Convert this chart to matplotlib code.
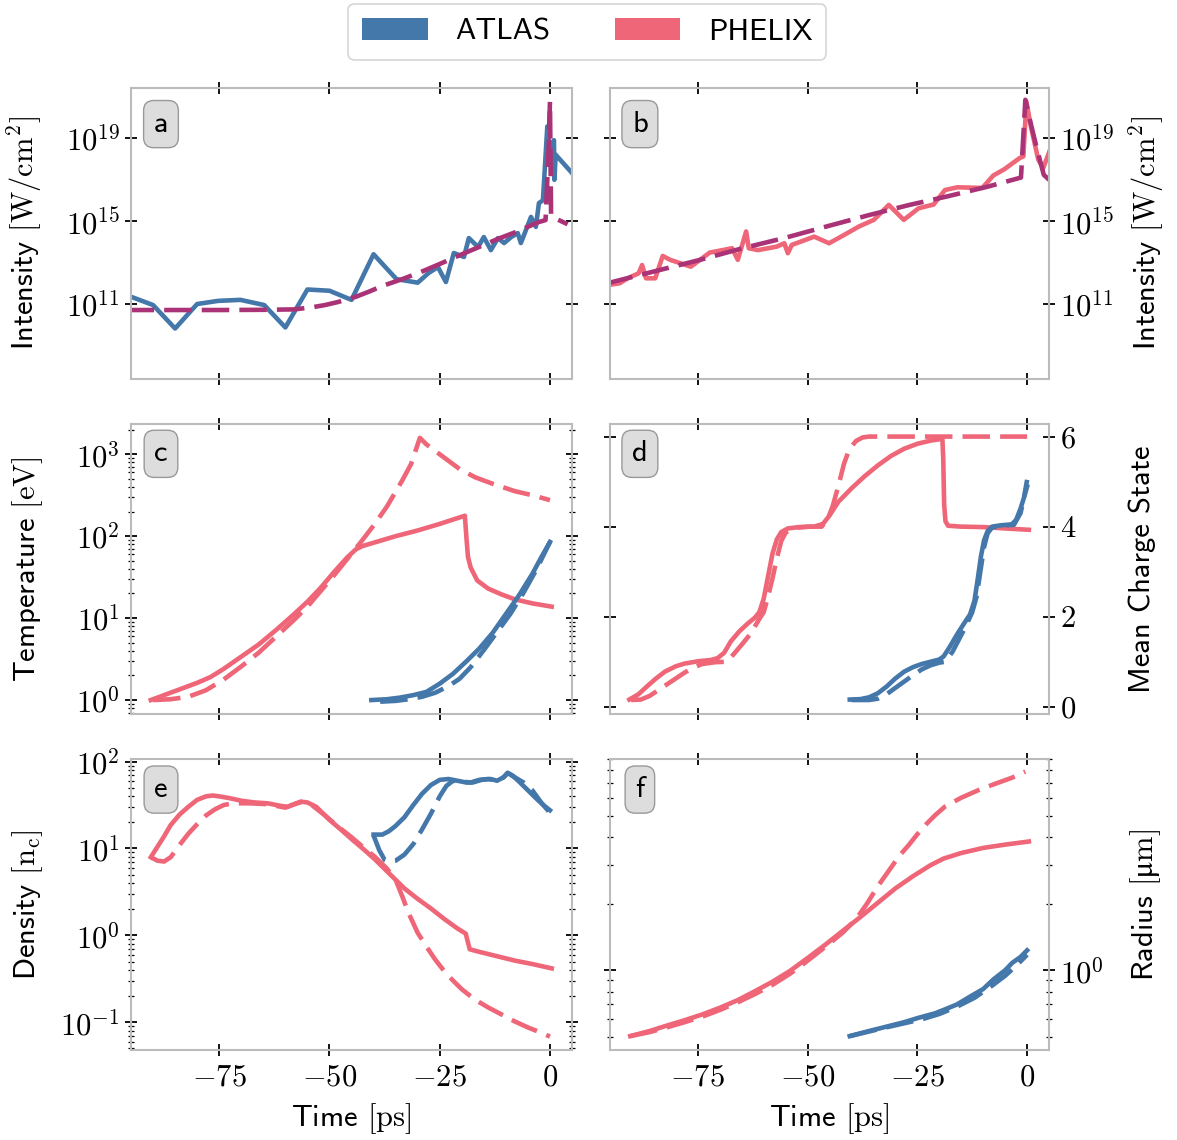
import matplotlib.pyplot as plt
import numpy as np
from matplotlib.patches import Patch
from matplotlib.ticker import FixedLocator, NullLocator, NullFormatter, LogLocator, FuncFormatter

plt.rcParams['font.family'] = ['cmss10', 'DejaVu Sans']
plt.rcParams['mathtext.fontset'] = 'cm'
plt.rcParams['axes.formatter.use_mathtext'] = True

BLUE = '#4477AA'
PINK = '#EE6677'
PURPLE = '#AA3377'

# ---- panel a: ATLAS intensity (log10 W/cm^2) ----
atlas_int_t = [-95, -90, -85, -80, -75.3, -70.2, -64.8, -60, -55, -50, -45, -40, -34.8, -30, -29.3,
               -27.5, -25.4, -23.6, -21.8, -19.5, -18.4, -16.3, -15, -13.4, -11.8, -10.4, -8.8, -7.3,
               -6.6, -4.3, -3.2, -2.5, -1.6, -0.6, 0, 0.9, 1.0, 1.3, 5.5]
atlas_int_log = [11.35, 10.95, 9.82, 11.0, 11.15, 11.2, 10.95, 9.87, 11.7, 11.64, 11.2, 13.4, 12.2, 12.03, 12.16,
                 12.5, 12.78, 12.06, 13.46, 13.27, 14.18, 13.75, 14.23, 13.6, 14.18, 13.94, 14.23, 14.42,
                 13.94, 15.2, 14.72, 15.87, 16.0, 19.57, 18.3, 18.9, 16.99, 18.2, 17.2]
atlas_fit_t = [-96, -85, -75, -65, -58, -54, -51, -48, -44, -41, -37.9, -33.5, -29.2, -24.8,
               -20.5, -16.1, -11.7, -7.4, -2.6, -1.0, -0.3, 0, 0.25, 0.5, 4.0]
atlas_fit_log = [10.71, 10.71, 10.71, 10.72, 10.74, 10.84, 10.95, 11.1, 11.35, 11.6, 11.88, 12.2, 12.55, 12.95,
                 13.35, 13.75, 14.15, 14.5, 14.95, 15.05, 18.5, 20.77, 15.3, 15.2, 14.85]

# ---- panel b: PHELIX intensity ----
phelix_int_t = [-96, -92.8, -91, -88.5, -87.7, -86.8, -84.7, -83, -81.3, -76.6, -72.3, -67.2, -65.9, -64,
                -63.4, -61.3, -57, -55.3, -54.5, -53.6, -48.5, -45.1, -41.7, -38.3, -34.9, -31.5, -28.1,
                -24.7, -21.3, -18.7, -15.9, -10.2, -7.7, -5.2, -1.7, -0.85, -0.17, 0.85, 2.55, 3.66, 5.5]
phelix_int_log = [11.9, 12.0, 12.24, 12.48, 12.88, 12.24, 12.24, 13.32, 13.13, 12.8, 13.48, 13.69, 13.13, 14.5,
                  13.69, 13.6, 13.77, 13.93, 13.45, 13.85, 14.25, 13.93, 14.33, 14.74, 15.06, 15.78, 15.06,
                  15.62, 15.8, 16.5, 16.63, 16.6, 17.2, 17.5, 18.04, 18.12, 20.77, 19.57, 17.96, 17.55, 18.6]
phelix_fit_t = [-96, -85, -74.5, -65, -55, -45, -36, -27, -18, -9, -1.4, -0.4, 0.5, 2.1, 3.8, 5.5]
phelix_fit_log = [11.98, 12.57, 13.13, 13.68, 14.2, 14.78, 15.29, 15.77, 16.2, 16.66, 17.1, 20.85, 20.0, 18.6,
                  17.23, 16.9]

# ---- panel c: temperature (log10 eV) ----
ph_T_t = [-90.5, -87, -84, -80, -77, -74, -70, -66, -62, -58, -55, -52, -49, -46, -44, -42.5, -40, -35,
          -30, -25, -19.3, -18.9, -18.6, -18, -16.5, -14, -11, -8, -4, 0.4]
ph_T_log = [0.0, 0.07, 0.13, 0.21, 0.28, 0.38, 0.53, 0.68, 0.86, 1.05, 1.2, 1.37, 1.56, 1.74, 1.84, 1.88, 1.92, 2.0,
            2.07, 2.15, 2.25, 1.95, 1.75, 1.62, 1.46, 1.36, 1.29, 1.23, 1.18, 1.14]
ph_T0_t = [-90, -86, -82, -78, -74, -70, -66, -62, -58, -55, -52, -49, -46, -43, -40, -37, -33.5, -31.5,
           -29.5, -28, -25, -22.5, -20.5, -17, -13, -8, -4, 0]
ph_T0_log = [0.0, 0.01, 0.04, 0.12, 0.25, 0.41, 0.58, 0.78, 0.98, 1.14, 1.33, 1.52, 1.72, 1.92, 2.13, 2.36, 2.68, 2.88,
             3.2, 3.12, 3.0, 2.9, 2.82, 2.72, 2.64, 2.55, 2.5, 2.44]
at_T_t = [-40.5, -37, -34, -31, -28, -25, -22, -19, -16, -13, -10, -7, -4, -2, 0]
at_T_log = [0.0, 0.01, 0.03, 0.06, 0.1, 0.2, 0.32, 0.47, 0.63, 0.82, 1.05, 1.28, 1.54, 1.74, 1.93]
at_T0_t = [-38.5, -35, -32, -29, -26, -23, -20.5, -18, -15, -12, -9, -6, -3, 0]
at_T0_log = [-0.02, -0.01, 0.01, 0.04, 0.09, 0.17, 0.26, 0.4, 0.61, 0.83, 1.05, 1.31, 1.6, 1.93]

# ---- panel d: mean charge state ----
ph_Z_t = [-90.6, -88.5, -86.5, -84.5, -82.5, -80, -78, -75, -72, -70.5, -69, -67.5, -65.5, -63.5, -62, -61,
          -60, -59, -58, -57, -56, -54.5, -52, -48.5, -46.5, -45, -43, -40, -37, -34, -31, -28, -25, -22,
          -19.3, -19.1, -18.9, -18.6, -18, -15, -10, -5, 0.4]
ph_Z = [0.16, 0.28, 0.46, 0.63, 0.78, 0.9, 0.96, 1.01, 1.04, 1.08, 1.2, 1.45, 1.68, 1.86, 1.98, 2.1,
        2.4, 2.9, 3.4, 3.72, 3.88, 3.96, 3.99, 4.0, 4.06, 4.25, 4.55, 4.85, 5.12, 5.36, 5.57, 5.73, 5.84, 5.91,
        5.95, 5.5, 4.5, 4.12, 4.02, 4.0, 3.99, 3.96, 3.93]
ph_Z0_t = [-90.2, -88, -86, -84, -82, -80, -78, -76, -74, -71, -68.5, -67, -65, -63, -61, -60, -59, -58,
           -57, -56, -55, -53, -50, -46.8, -45.5, -44.3, -43, -41.7, -40.5, -39, -37.5, -36, 0]
ph_Z0 = [0.15, 0.16, 0.24, 0.37, 0.5, 0.63, 0.76, 0.87, 0.95, 0.99, 1.0, 1.15, 1.38, 1.62, 1.95, 2.1, 2.45, 2.85,
         3.3, 3.68, 3.87, 3.97, 4.0, 4.0, 4.15, 4.45, 4.9, 5.4, 5.72, 5.9, 5.98, 6.0, 6.0]
at_Z_t = [-40.4, -38, -36, -34, -32, -30, -28, -26, -24, -22, -20, -19, -17.5, -16, -14.5, -13, -12, -11.3,
          -10.5, -9.8, -9, -8, -6, -3.5, -2.5, -1.5, -0.7, 0]
at_Z = [0.16, 0.17, 0.21, 0.3, 0.45, 0.63, 0.78, 0.88, 0.95, 1.0, 1.05, 1.12, 1.35, 1.6, 1.83, 2.05, 2.35, 2.8,
        3.35, 3.7, 3.9, 4.0, 4.03, 4.05, 4.15, 4.4, 4.65, 4.89]
at_Z0_t = [-40, -36, -34, -32, -30, -28, -26, -24, -22, -20, -18.7, -17, -15.5, -14, -12.5, -11.5, -10.5,
           -9.8, -9, -8, -6, -3, -1.5, -0.8, 0]
at_Z0 = [0.15, 0.15, 0.18, 0.28, 0.42, 0.56, 0.7, 0.83, 0.92, 0.98, 1.0, 1.22, 1.5, 1.78, 2.1, 2.45, 3.1,
         3.55, 3.85, 3.98, 4.02, 4.04, 4.3, 4.6, 5.04]

# ---- panel e: density (log10 n_c) ----
ph_n_t = [-90.5, -89, -87.5, -86, -84, -82, -80, -78, -76.5, -75, -72.7, -70, -67, -64, -61, -59.5, -58,
          -56.5, -55, -53, -50, -47, -44.8, -42, -39.6, -36, -33, -30, -27, -24, -21, -19.1, -18.6, -18.2,
          -16, -12, -8, -4, 0.4]
ph_n_log = [0.9, 1.02, 1.14, 1.27, 1.39, 1.48, 1.56, 1.6, 1.61, 1.6, 1.58, 1.55, 1.53, 1.52, 1.49, 1.48, 1.51,
            1.54, 1.53, 1.48, 1.33, 1.2, 1.1, 0.98, 0.87, 0.69, 0.54, 0.42, 0.31, 0.19, 0.08, 0.02, -0.08, -0.16,
            -0.19, -0.24, -0.29, -0.33, -0.38]
ph_n0_t = [-90.5, -89, -87.5, -86, -84, -82, -80, -78, -76, -74, -72, -68, -64, -60, -58, -56, -54, -51, -48,
           -45, -42, -39.6, -37, -35, -33.5, -32, -30, -28, -26, -24, -22, -20, -17, -14, -11, -8, -5, -2, 0]
ph_n0_log = [0.9, 0.86, 0.85, 0.9, 1.04, 1.17, 1.28, 1.38, 1.45, 1.5, 1.52, 1.52, 1.51, 1.47, 1.51, 1.54, 1.5,
             1.38, 1.25, 1.13, 1.0, 0.9, 0.77, 0.64, 0.45, 0.25, 0.03, -0.13, -0.28, -0.41, -0.52, -0.62, -0.74,
             -0.83, -0.91, -0.99, -1.06, -1.12, -1.165]
at_n_t = [-40, -38, -36.5, -35, -33, -31, -29, -27, -25, -23, -21, -19, -17.5, -15.5, -13.5, -12, -10.5,
          -9.6, -8.5, -7, -5, -3, -1.5, 0]
at_n_log = [1.16, 1.16, 1.2, 1.26, 1.36, 1.5, 1.63, 1.73, 1.79, 1.8, 1.78, 1.76, 1.76, 1.79, 1.8, 1.78, 1.82,
            1.87, 1.84, 1.77, 1.67, 1.57, 1.5, 1.44]
at_n0_t = [-40, -38.7, -37.5, -36.5, -35, -33, -31, -29, -27, -25, -23.5, -22, -20, -18, -16, -14, -12, -10.5,
           -9.6, -8, -6, -4, -2, 0]
at_n0_log = [1.15, 0.98, 0.87, 0.85, 0.86, 0.93, 1.05, 1.22, 1.4, 1.6, 1.72, 1.78, 1.77, 1.76, 1.79, 1.8, 1.78,
             1.82, 1.87, 1.82, 1.76, 1.67, 1.53, 1.41]

# ---- panel f: radius (log10 um) ----
ph_r_t = [-90.4, -86, -82, -78, -74, -70, -66, -62, -58, -54, -50, -46, -42, -38, -34, -30, -26, -22, -19,
          -15, -10, -5, 0.4]
ph_r_log = [-0.298, -0.275, -0.25, -0.226, -0.2, -0.17, -0.136, -0.095, -0.052, -0.003, 0.055, 0.115, 0.178,
            0.24, 0.305, 0.37, 0.425, 0.475, 0.505, 0.53, 0.553, 0.568, 0.582]
ph_r0_t = [-90.4, -86, -82, -78, -74, -70, -66, -62, -58, -54, -50, -46, -42, -39, -36.5, -34, -31.5, -29,
           -27, -25, -23, -21, -18.7, -15, -11, -7, -3.5, -0.4]
ph_r0_log = [-0.298, -0.28, -0.258, -0.235, -0.21, -0.18, -0.146, -0.108, -0.066, -0.016, 0.043, 0.105, 0.17,
             0.23, 0.3, 0.38, 0.45, 0.52, 0.565, 0.615, 0.66, 0.7, 0.74, 0.78, 0.815, 0.845, 0.87, 0.898]
at_r_t = [-40.4, -36, -32, -28, -24.7, -21, -18.7, -16, -12.8, -10, -7.7, -5, -3.4, -1.5, 0]
at_r_log = [-0.298, -0.275, -0.255, -0.235, -0.215, -0.195, -0.177, -0.155, -0.117, -0.085, -0.042, 0.0, 0.033,
            0.06, 0.09]
at_r0_t = [-40.4, -36, -32, -28, -24, -20, -16, -12, -8, -5, -2.5, 0]
at_r0_log = [-0.298, -0.277, -0.258, -0.24, -0.222, -0.198, -0.165, -0.125, -0.07, -0.025, 0.02, 0.07]

LW = 3.3
DASH = (6, 2.2)
FS = 22


def pw(v):
    return np.power(10.0, v)


def math_fmt(v, pos):
    return r'$%g$' % v


def log_fmt(v, pos):
    return r'$10^{%d}$' % int(round(np.log10(v)))


def style(ax, side, bottom_labels):
    for s in ax.spines.values():
        s.set_color('#bbbbbb')
        s.set_linewidth(1.5)
    ax.tick_params(which='both', direction='inout', top=True, bottom=True, left=True, right=True,
                   labelsize=FS)
    ax.tick_params(which='major', length=9, width=1.3)
    ax.tick_params(which='minor', length=4.5, width=0.9)
    ax.tick_params(axis='x', which='major', pad=6)
    ax.xaxis.set_major_locator(FixedLocator([-75, -50, -25, 0]))
    ax.xaxis.set_major_formatter(FuncFormatter(math_fmt))
    ax.tick_params(labelbottom=bottom_labels)
    if side == 'right':
        ax.tick_params(labelleft=False, labelright=True)
        ax.yaxis.set_label_position('right')
        ax.yaxis.set_label_coords(1.18, 0.5)
    else:
        ax.yaxis.set_label_coords(-0.196, 0.5)
    if bottom_labels:
        ax.set_xlabel(r'Time $[\mathrm{ps}]$', fontsize=FS, labelpad=7)


fig = plt.figure(figsize=(11.77, 11.40), dpi=100)
cols = [(0.1113, 0.3747), (0.5183, 0.373)]
rows = [(0.6675, 0.2553), (0.3737, 0.2544), (0.0789, 0.2553)]

axs = {}
first = None
for r, (y0, h) in enumerate(rows):
    for c, (x0, w) in enumerate(cols):
        ax = fig.add_axes([x0, y0, w, h], sharex=first)
        if first is None:
            first = ax
        axs[(r, c)] = ax

ax_a, ax_b = axs[(0, 0)], axs[(0, 1)]
ax_c, ax_d = axs[(1, 0)], axs[(1, 1)]
ax_e, ax_f = axs[(2, 0)], axs[(2, 1)]

# a
ax_a.plot(atlas_int_t, pw(atlas_int_log), color=BLUE, lw=LW)
ax_a.plot(atlas_fit_t, pw(atlas_fit_log), color=PURPLE, lw=LW, dashes=DASH)
# b
ax_b.plot(phelix_int_t, pw(phelix_int_log), color=PINK, lw=LW)
ax_b.plot(phelix_fit_t, pw(phelix_fit_log), color=PURPLE, lw=LW, dashes=DASH)
for ax in (ax_a, ax_b):
    ax.set_yscale('log')
    ax.set_ylim(pw(7.38), pw(21.42))
    ax.yaxis.set_major_locator(FixedLocator([1e11, 1e15, 1e19]))
    ax.yaxis.set_minor_locator(NullLocator())
    ax.yaxis.set_major_formatter(FuncFormatter(log_fmt))
    ax.set_ylabel(r'Intensity $[\mathrm{W/cm^2}]$', fontsize=FS)

# c
ax_c.plot(ph_T_t, pw(ph_T_log), color=PINK, lw=LW)
ax_c.plot(ph_T0_t, pw(ph_T0_log), color=PINK, lw=LW, dashes=DASH)
ax_c.plot(at_T_t, pw(at_T_log), color=BLUE, lw=LW)
ax_c.plot(at_T0_t, pw(at_T0_log), color=BLUE, lw=LW, dashes=DASH)
ax_c.set_yscale('log')
ax_c.set_ylim(pw(-0.17), pw(3.37))
ax_c.set_ylabel(r'Temperature $[\mathrm{eV}]$', fontsize=FS)

# d
ax_d.plot(ph_Z_t, ph_Z, color=PINK, lw=LW)
ax_d.plot(ph_Z0_t, ph_Z0, color=PINK, lw=LW, dashes=DASH)
ax_d.plot(at_Z_t, at_Z, color=BLUE, lw=LW)
ax_d.plot(at_Z0_t, at_Z0, color=BLUE, lw=LW, dashes=DASH)
ax_d.set_ylim(-0.16, 6.28)
ax_d.yaxis.set_major_locator(FixedLocator([0, 2, 4, 6]))
ax_d.yaxis.set_major_formatter(FuncFormatter(math_fmt))
ax_d.set_ylabel('Mean Charge State', fontsize=FS)

# e
ax_e.plot(ph_n_t, pw(ph_n_log), color=PINK, lw=LW)
ax_e.plot(ph_n0_t, pw(ph_n0_log), color=PINK, lw=LW, dashes=DASH)
ax_e.plot(at_n_t, pw(at_n_log), color=BLUE, lw=LW)
ax_e.plot(at_n0_t, pw(at_n0_log), color=BLUE, lw=LW, dashes=DASH)
ax_e.set_yscale('log')
ax_e.set_ylim(pw(-1.32), pw(2.03))
ax_e.set_ylabel(r'Density $[\mathrm{n_c}]$', fontsize=FS)

# f
ax_f.plot(ph_r_t, pw(ph_r_log), color=PINK, lw=LW)
ax_f.plot(ph_r0_t, pw(ph_r0_log), color=PINK, lw=LW, dashes=DASH)
ax_f.plot(at_r_t, pw(at_r_log), color=BLUE, lw=LW)
ax_f.plot(at_r0_t, pw(at_r0_log), color=BLUE, lw=LW, dashes=DASH)
ax_f.set_yscale('log')
ax_f.set_ylim(pw(-0.361), pw(0.955))
ax_f.set_ylabel(r'Radius $[\mathrm{μm}]$', fontsize=FS)

for ax in (ax_c, ax_e, ax_f):
    if ax is ax_f:
        ax.yaxis.set_major_locator(FixedLocator([1.0]))
    else:
        ax.yaxis.set_major_locator(LogLocator(base=10, numticks=20))
    ax.yaxis.set_minor_locator(LogLocator(base=10, subs=np.arange(2, 10), numticks=20))
    ax.yaxis.set_major_formatter(FuncFormatter(log_fmt))
    ax.yaxis.set_minor_formatter(NullFormatter())

ax_a.set_xlim(-95, 5)

letters = {'a': (ax_a, 0.876), 'b': (ax_b, 0.876), 'c': (ax_c, 0.897), 'd': (ax_d, 0.897),
           'e': (ax_e, 0.895), 'f': (ax_f, 0.895)}
for key, (ax, yy) in letters.items():
    ax.text(0.068, yy, key, transform=ax.transAxes, ha='center', va='center', fontsize=FS,
            bbox=dict(boxstyle='round,pad=0.33', fc='#dddddd', ec='#999999', lw=1.0))

style(ax_a, 'left', False)
style(ax_b, 'right', False)
style(ax_c, 'left', False)
style(ax_d, 'right', False)
style(ax_e, 'left', True)
style(ax_f, 'right', True)

handles = [Patch(facecolor=BLUE), Patch(facecolor=PINK)]
leg = fig.legend(handles, ['ATLAS', 'PHELIX'], loc='center', bbox_to_anchor=(0.499, 0.972), ncol=2,
                 fontsize=FS, handlelength=2.15, handleheight=0.75, handletextpad=0.9, columnspacing=2.1,
                 frameon=True, fancybox=True, edgecolor='#cccccc', borderpad=0.45)
leg.get_frame().set_linewidth(1.2)

fig.savefig('out.png', dpi=100)
